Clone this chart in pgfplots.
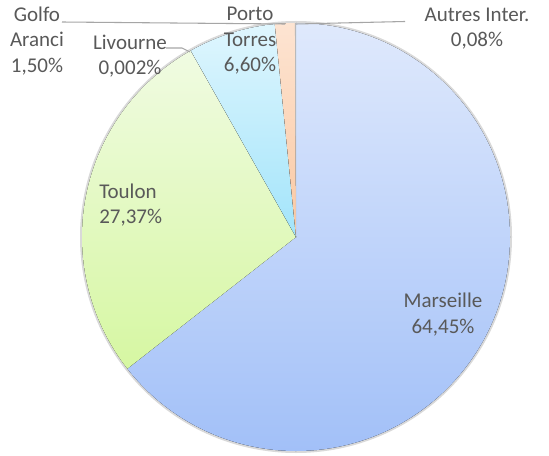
\documentclass[border=0pt]{standalone}
\usepackage{pgfplots}
\usepackage{pgfplotstable}
\pgfplotsset{compat=1.18}
\usepackage{fontspec}
\setmainfont{Carlito}
\definecolor{txt}{HTML}{595959}
\definecolor{mA}{HTML}{DFE9FC}\definecolor{mB}{HTML}{A2C0F8}
\definecolor{tA}{HTML}{F0FBE2}\definecolor{tB}{HTML}{D6F7A2}
\definecolor{pA}{HTML}{DFF6FE}\definecolor{pB}{HTML}{A2E4FA}
\definecolor{gA}{HTML}{FDE4D2}\definecolor{gB}{HTML}{FAC8A2}
\pgfplotstableread[col sep=comma]{
name,value
Marseille,64.45
Toulon,27.37
Livourne,0.002
Porto Torres,6.60
Golfo Aranci,1.50
Autres Inter.,0.08
}\piedata
\newcommand\slice[3]{%
  \fill[top color=#2, bottom color=#3] (axis cs:0,0) -- ++(\csname sA#1\endcsname:160.5pt)
    arc[start angle=\csname sA#1\endcsname, end angle=\csname eA#1\endcsname, radius=160.5pt] -- cycle;}
\begin{document}%
\def\startang{90}%
\pgfplotsforeachungrouped \i in {0,...,5}{%
  \pgfplotstablegetelem{\i}{value}\of\piedata%
  \pgfmathsetmacro\endang{\startang - \pgfplotsretval*3.6/1.00002}%
  \expandafter\xdef\csname sA\i\endcsname{\startang}%
  \expandafter\xdef\csname eA\i\endcsname{\endang}%
  \global\let\startang\endang%
}%
\begin{tikzpicture}[x=0.75pt, y=-0.75pt]
\useasboundingbox (0,0) rectangle (549,456);
\fill[white] (0,0) rectangle (549,456);
\coordinate (C) at (296,237);
\begin{axis}[at={(C)}, anchor=center, x=160.5pt, y=160.5pt,
  xmin=-1.2, xmax=1.2, ymin=-1.2, ymax=1.2, hide axis, clip=false]
\draw[gray!30, line width=2pt] (axis cs:0,0) circle[radius=161pt];
\slice{0}{mA}{mB}
\slice{1}{tA}{tB}
\slice{2}{tA}{tB}
\slice{3}{pA}{pB}
\slice{4}{gA}{gB}
\fill[gray!55] (axis cs:0,0) -- ++(\csname sA5\endcsname:160.5pt)
    arc[start angle=\csname sA5\endcsname, end angle=\csname eA5\endcsname, radius=160.5pt] -- cycle;
\end{axis}
\draw[gray!70, line width=0.8pt] (62,22) -- (285,24);
\draw[gray!70, line width=0.8pt] (296,24) -- (405,21.5);
\draw[gray!70, line width=0.8pt] (166,48) -- (182,48) -- (190,52);
\begin{scope}[every node/.style={text=txt, font=\fontsize{15.75}{19.2}\selectfont, align=center, inner sep=0pt}]
\node at (443,314.5) {Marseille\\64,45\%};
\node[align=left, anchor=west] at (99,205) {Toulon\\27,37\%};
\node at (250,41) {Porto\\Torres\\6,60\%};
\node at (37,41) {Golfo\\Aranci\\1,50\%};
\node at (130,56) {Livourne\\0,002\%};
\node at (477,28.5) {Autres Inter.\\0,08\%};
\end{scope}
\end{tikzpicture}%
\end{document}
